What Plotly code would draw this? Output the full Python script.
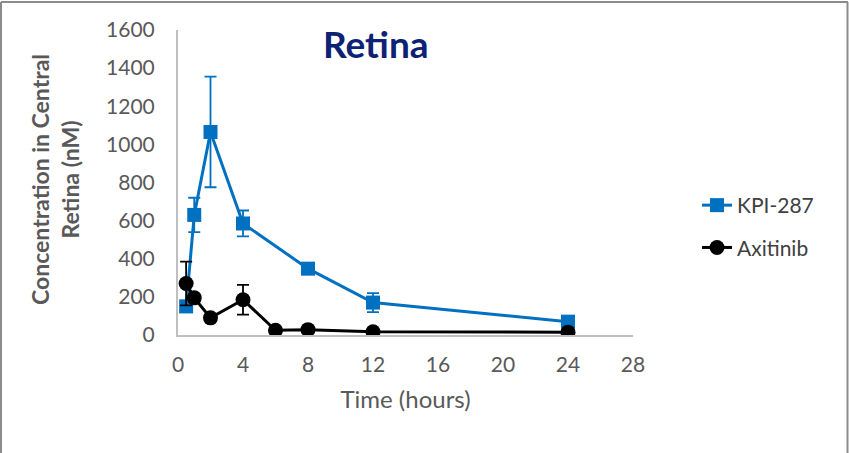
import plotly.graph_objects as go

# Sampling times (hours)
time_kpi = [0.5, 1, 2, 4, 8, 12, 24]
time_axi = [0.5, 1, 2, 4, 6, 8, 12, 24]

# Concentration in central retina (nM) and error
kpi_287 = [150, 630, 1065, 585, 348, 170, 70]
kpi_287_err = [30, 90, 290, 68, 20, 50, 15]
axitinib = [270, 195, 90, 185, 25, 28, 17, 15]
axitinib_err = [115, 20, 15, 78, 10, 10, 5, 5]

x_ticks = [0, 4, 8, 12, 16, 20, 24, 28]
y_ticks = [0, 200, 400, 600, 800, 1000, 1200, 1400, 1600]

BLUE = "#0070C0"
FONT = "Lato"
GREY_TEXT = "#595959"

fig = go.Figure()

fig.add_trace(go.Scatter(
    x=time_kpi, y=kpi_287, name="KPI-287", mode="lines+markers",
    line=dict(color=BLUE, width=3),
    marker=dict(symbol="square", size=14, color=BLUE),
    error_y=dict(type="data", array=kpi_287_err, color=BLUE, thickness=1.8, width=6),
    legendgroup="a",
))
fig.add_trace(go.Scatter(
    x=time_axi, y=axitinib, name="Axitinib", mode="lines+markers",
    line=dict(color="black", width=3),
    marker=dict(symbol="circle", size=15, color="black"),
    error_y=dict(type="data", array=axitinib_err, color="black", thickness=1.8, width=6),
    legendgroup="b",
))

W, H = 849, 453
L, R, T, B = 178, 216, 30, 118
pw, ph = W - L - R, H - T - B

def px_x(p):
    return (p - L) / pw

def px_y(p):
    return 1 - (p - T) / ph

# outer frame (left, top, right edges)
frame = dict(type="line", xref="paper", yref="paper", line=dict(color="#8c8c8c", width=2))
shapes = [
    dict(frame, x0=px_x(1), x1=px_x(1), y0=px_y(2), y1=px_y(H + 5)),
    dict(frame, x0=px_x(1), x1=px_x(W - 1), y0=px_y(2), y1=px_y(2)),
    dict(frame, x0=px_x(W - 1.5), x1=px_x(W - 1.5), y0=px_y(2), y1=px_y(H + 5)),
]

fig.update_layout(
    width=W, height=H,
    margin=dict(l=L, r=R, t=T, b=B),
    paper_bgcolor="white", plot_bgcolor="white",
    font=dict(family=FONT, color=GREY_TEXT, size=20),
    showlegend=True,
    legend=dict(
        x=px_x(697), xanchor="left", y=px_y(185), yanchor="top",
        font=dict(family=FONT, size=21, color="#404040"),
        tracegroupgap=12, bgcolor="rgba(0,0,0,0)",
    ),
    shapes=shapes,
    annotations=[
        dict(text="<b>Retina</b>", xref="paper", yref="paper",
             x=px_x(376), y=px_y(44), xanchor="center", yanchor="middle",
             showarrow=False, font=dict(family=FONT, size=37, color="#0D2275")),
        dict(text="<b>Concentration in Central<br>Retina (nM)</b>", xref="paper", yref="paper",
             x=px_x(55), y=px_y(180), xanchor="center", yanchor="middle", textangle=-90,
             showarrow=False, font=dict(family=FONT, size=23, color=GREY_TEXT)),
    ],
    xaxis=dict(
        range=[0, 28], tickvals=x_ticks, ticktext=[str(v) for v in x_ticks],
        showgrid=False, zeroline=False, showline=True, linecolor="#bfbfbf", linewidth=2,
        ticks="", ticklabelstandoff=10,
        tickfont=dict(family=FONT, size=21, color=GREY_TEXT),
        title=dict(text="Time (hours)", font=dict(family=FONT, size=24, color=GREY_TEXT), standoff=16),
    ),
    yaxis=dict(
        range=[0, 1600], tickvals=y_ticks, ticktext=[str(v) for v in y_ticks],
        showgrid=False, zeroline=False, showline=True, linecolor="#bfbfbf", linewidth=2,
        ticks="", ticklabelstandoff=17,
        tickfont=dict(family=FONT, size=21, color=GREY_TEXT),
    ),
)

fig.write_html("out.html")
